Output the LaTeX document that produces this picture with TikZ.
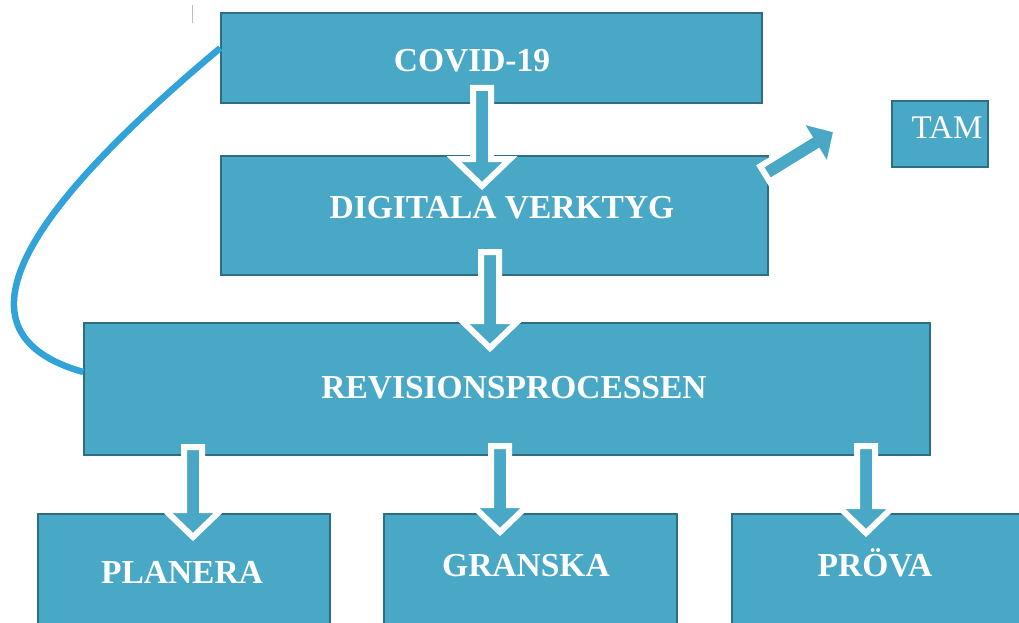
\documentclass[tikz,border=0pt]{standalone}
\usepackage{fontspec}
\setmainfont{Liberation Serif}
\usetikzlibrary{shadows}
\definecolor{boxfill}{RGB}{73,168,198}
\definecolor{boxline}{RGB}{46,110,130}
\definecolor{curvecol}{RGB}{49,163,217}
\tikzset{
  box/.style={draw=boxline, line width=1.5pt, fill=boxfill, inner sep=0pt},
  txt/.style={text=white, font=\fontsize{33.5}{38}\selectfont\bfseries, inner sep=0pt},
  tamtxt/.style={text=white, font=\fontsize{33}{38}\selectfont, inner sep=0pt},
  blockarrow/.style={fill=boxfill, draw=white, line width=6pt, line join=miter,
     drop shadow={opacity=0.3, shadow xshift=2pt, shadow yshift=-2pt, fill=gray}},
  pics/barrow/.style={code={
     \path[blockarrow] (-9,0) -- (9,0) -- (9,#1-27) -- (28,#1-27) -- (0,#1)
        -- (-28,#1-27) -- (-9,#1-27) -- cycle;}}
}
\begin{document}
\begin{tikzpicture}[x=1pt,y=-1pt]
\useasboundingbox (0,0) rectangle (1019,623);
\clip (0,0) rectangle (1019,623);
% boxes
\node[box, minimum width=541, minimum height=90] (covid) at (491.5,58) {};
\node[box, minimum width=547, minimum height=119] (digi) at (494.5,215.5) {};
\node[box, minimum width=96, minimum height=66] (tam) at (940,134) {};
\node[box, minimum width=846, minimum height=132] (rev) at (507,389) {};
\node[box, minimum width=292, minimum height=126] (plan) at (184,577) {};
\node[box, minimum width=293, minimum height=126] (gran) at (530.5,577) {};
\node[box, minimum width=298, minimum height=126] (prov) at (881,577) {};
% texts
\node[txt] (covidt) at (472,61) {COVID-19};
\node[txt] (digit) at (502,208) {DIGITALA VERKTYG};
\node[tamtxt] (tamt) at (947,128) {TAM};
\node[txt] (revt) at (514,388) {REVISIONSPROCESSEN};
\node[txt] (plant) at (182,572) {PLANERA};
\node[txt] (grant) at (526,566) {GRANSKA};
\node[txt] (provt) at (875,563) {PRÖVA};
% curve
\draw[curvecol, line width=6.5pt] (covid.west |- 0,48) .. controls (45,195) and (-65,330) .. (rev.west |- 0,372);
% tick
\draw[gray!50, line width=0.8pt] (192,5) -- (192,23);
% block arrows
\pic at (482,88) {barrow=98};
\pic at (490,252) {barrow=96};
\pic at (193,447) {barrow=90};
\pic at (500,446) {barrow=86};
\pic at (866,446) {barrow=87};
\pic[rotate=121.6] at (765,174) {barrow=84};
\end{tikzpicture}
\end{document}
